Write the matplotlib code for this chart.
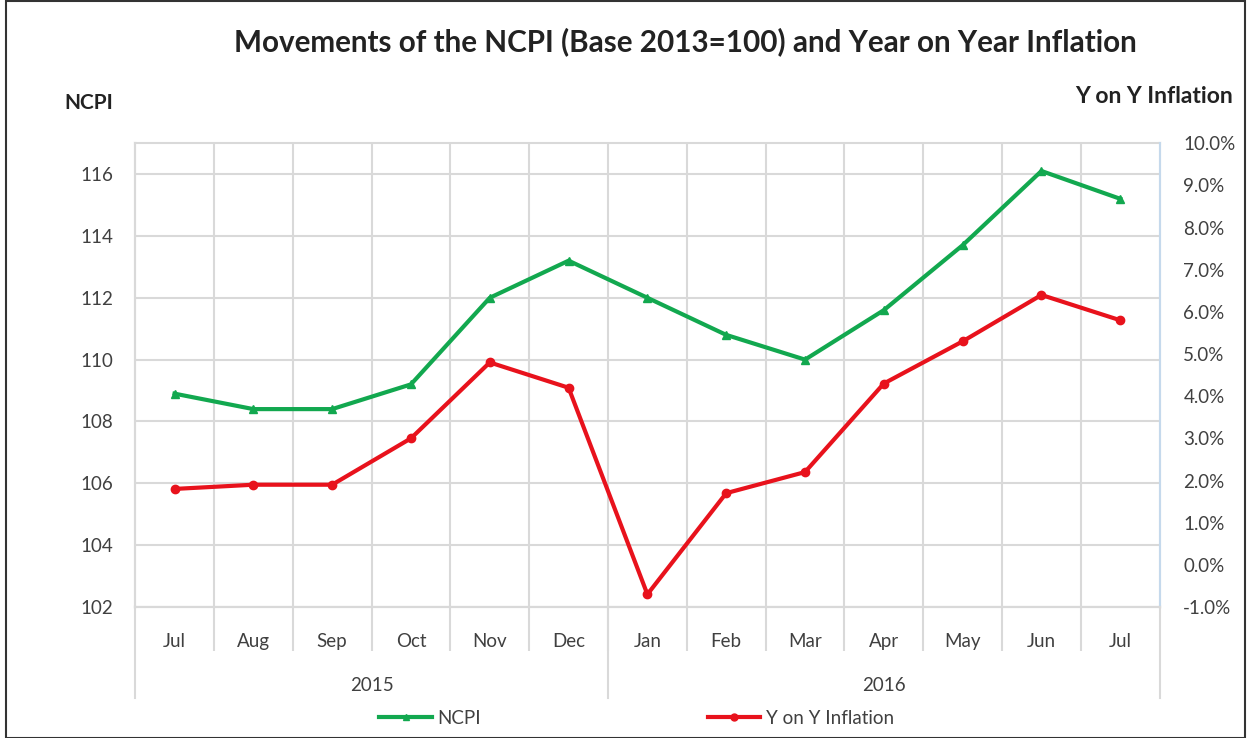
import matplotlib
matplotlib.use("Agg")
import matplotlib.pyplot as plt
from matplotlib.lines import Line2D
from matplotlib.patches import Rectangle
from matplotlib.ticker import FuncFormatter, FixedLocator

plt.rcParams['font.family'] = ['Lato', 'DejaVu Sans']

# data
months = ['Jul', 'Aug', 'Sep', 'Oct', 'Nov', 'Dec', 'Jan', 'Feb', 'Mar', 'Apr', 'May', 'Jun', 'Jul']
years = ['2015', '2016']
year_counts = [6, 7]
ncpi = [108.9, 108.4, 108.4, 109.2, 112.0, 113.2, 112.0, 110.8, 110.0, 111.6, 113.7, 116.1, 115.2]
yoy = [1.8, 1.9, 1.9, 3.0, 4.8, 4.2, -0.7, 1.7, 2.2, 4.3, 5.3, 6.4, 5.8]

green = '#12a84f'
red = '#e8121c'
grid_c = '#d9d9d9'
text_c = '#404040'

fig = plt.figure(figsize=(12.51, 7.38), dpi=100)
ax = fig.add_axes([0.108, 0.1775, 0.819, 0.6285])
ax2 = ax.twinx()

x = list(range(len(months)))
ax.plot(x, ncpi, color=green, lw=3, marker='^', ms=6, zorder=3)
ax2.plot(x, yoy, color=red, lw=3, marker='o', ms=6, zorder=3)

# left axis
ax.set_xlim(-0.5, len(months) - 0.5)
ax.set_ylim(102, 117)
ax.set_yticks(range(102, 117, 2))
ax.yaxis.grid(True, color=grid_c, lw=1.5)
ax.set_xticks(x)
ax.set_xticklabels(months)
ax.xaxis.set_minor_locator(FixedLocator([i - 0.5 for i in range(1, len(months))]))
ax.xaxis.grid(True, which='minor', color=grid_c, lw=1.5)
ax.tick_params(axis='x', which='major', length=0, pad=19, labelsize=13.5, labelcolor=text_c)
ax.tick_params(axis='x', which='minor', length=32, width=1.5, color=grid_c, direction='out')
ax.tick_params(axis='y', length=0, pad=16, labelsize=13.5, labelcolor=text_c)
ax.set_axisbelow(True)

# right axis
ax2.set_ylim(-1, 10)
ax2.set_yticks(range(-1, 11))
ax2.yaxis.set_major_formatter(FuncFormatter(lambda v, p: f"{v:.1f}%"))
ax2.tick_params(axis='y', length=0, pad=17, labelsize=13.5, labelcolor=text_c)

for a in (ax, ax2):
    for s in a.spines.values():
        s.set_color(grid_c)
        s.set_linewidth(1.5)
ax2.spines['right'].set_color('#c5d9ec')
ax2.spines['top'].set_visible(False)

# year level of the category axis
trans = ax.get_xaxis_transform()
start = -0.5
for yr, n in zip(years, year_counts):
    ax.text(start + n / 2, -0.170, yr, transform=trans, ha='center', va='center',
            fontsize=13.5, color=text_c)
    ax.plot([start, start], [0, -0.196], transform=trans, color=grid_c, lw=1.5, clip_on=False)
    start += n
ax.plot([start, start], [0, -0.196], transform=trans, color=grid_c, lw=1.5, clip_on=False)

# titles
fig.text(0.548, 0.943, 'Movements of the NCPI (Base 2013=100) and Year on Year Inflation',
         ha='center', va='center', fontsize=21.3, fontweight='bold', color='#222222')
fig.text(0.071, 0.861, 'NCPI', ha='center', va='center', fontsize=15,
         fontweight='bold', color='#222222')
fig.text(0.9225, 0.869, 'Y on Y Inflation', ha='center', va='center', fontsize=16.5,
         fontweight='bold', color='#222222')

# legend
handles = [Line2D([], [], color=green, lw=3, marker='^', ms=5),
           Line2D([], [], color=red, lw=3, marker='o', ms=5)]
fig.legend(handles, ['NCPI', 'Y on Y Inflation'], loc='center', bbox_to_anchor=(0.509, 0.027),
           ncol=2, frameon=False, fontsize=13.5, handlelength=2.8, handletextpad=0.3,
           columnspacing=12.1, labelcolor=text_c)

# outer frame
fig.patches.append(Rectangle((0.005, 0.0), 0.99, 0.998, transform=fig.transFigure,
                             fill=False, edgecolor='#333333', lw=1.5))

fig.savefig('out.png', dpi=100)
